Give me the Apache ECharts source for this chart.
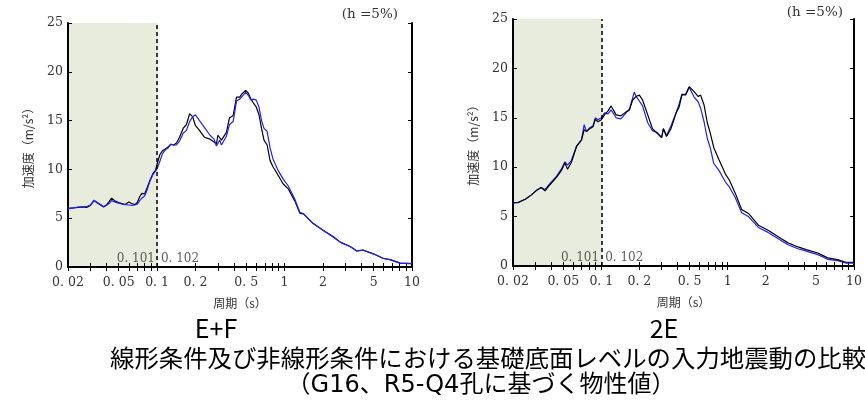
<!DOCTYPE html>
<html><head><meta charset="utf-8">
<script src="https://cdn.jsdelivr.net/npm/echarts@6/dist/echarts.min.js"></script>
<style>html,body{margin:0;padding:0;background:#fff}#c{width:865px;height:414px}</style>
</head><body><div id="c"></div>
<script>
// ---- data ----
const efPeriods = [0.020,0.022,0.024,0.026,0.028,0.030,0.032,0.034,0.036,0.038,0.040,0.042,0.044,0.047,0.050,0.053,0.056,0.060,0.063,0.067,0.070,0.073,0.076,0.080,0.084,0.088,0.093,0.097,0.100,0.105,0.110,0.116,0.122,0.128,0.135,0.142,0.150,0.160,0.170,0.180,0.190,0.200,0.215,0.235,0.260,0.280,0.292,0.300,0.310,0.320,0.350,0.370,0.395,0.420,0.445,0.460,0.495,0.520,0.545,0.570,0.600,0.630,0.660,0.690,0.730,0.770,0.810,0.890,0.976,1.07,1.20,1.32,1.41,1.68,2.02,2.42,2.73,3.27,3.69,4.16,4.98,5.97,6.73,8.07,10.0];
const efBlack = [6.0,6.05,6.1,6.15,6.1,6.3,6.8,6.55,6.35,6.15,6.35,6.7,7.05,6.75,6.6,6.5,6.4,6.65,6.5,6.4,6.6,7.2,7.55,7.5,8.2,8.9,9.6,9.9,10.1,11.5,11.9,12.1,12.3,12.55,12.5,12.7,13.3,14.2,14.6,15.7,15.4,14.5,14.0,13.3,13.1,12.8,12.6,13.5,13.4,13.0,13.8,15.3,15.5,17.4,17.4,17.7,18.1,17.8,17.2,16.8,16.4,15.6,14.2,13.0,12.5,10.9,10.3,9.4,8.5,8.0,6.8,5.5,5.45,4.45,3.75,3.1,2.55,2.1,1.65,1.72,1.35,0.87,0.76,0.4,0.35];
const efBlue  = [5.95,6.05,6.15,6.2,6.2,6.35,6.85,6.6,6.4,6.2,6.3,6.5,6.8,6.65,6.55,6.45,6.4,6.35,6.3,6.35,6.45,6.8,7.05,7.3,8.0,8.8,9.5,9.8,10.1,10.8,11.6,12.0,12.2,12.6,12.5,12.5,12.9,13.7,14.0,14.9,15.4,15.6,15.0,14.3,13.5,13.1,12.4,12.3,13.0,12.5,13.4,14.6,14.9,17.0,17.2,17.4,17.9,17.6,17.1,17.2,17.1,16.4,15.0,14.2,13.9,12.2,11.1,9.9,9.0,8.3,7.0,5.6,5.45,4.45,3.75,3.05,2.55,2.1,1.65,1.72,1.35,0.87,0.76,0.4,0.35];

const e2Periods = [0.020,0.022,0.025,0.028,0.031,0.0334,0.0359,0.039,0.0443,0.0485,0.0515,0.054,0.058,0.0636,0.0697,0.0732,0.0763,0.081,0.086,0.0896,0.094,0.100,0.106,0.113,0.1196,0.131,0.143,0.157,0.167,0.177,0.182,0.188,0.200,0.212,0.233,0.254,0.278,0.300,0.310,0.328,0.356,0.390,0.413,0.434,0.466,0.496,0.542,0.585,0.610,0.650,0.690,0.730,0.775,0.850,0.960,1.03,1.15,1.29,1.46,1.75,2.09,2.51,3.00,3.60,4.18,5.17,6.18,7.41,8.60,10.0];
const e2Black = [6.4,6.45,6.75,7.2,7.7,7.95,7.6,8.2,9.0,9.7,10.45,9.8,10.5,12.1,12.75,13.8,13.6,13.9,14.1,14.85,14.6,14.8,15.3,15.7,16.2,15.3,15.2,15.6,15.8,16.8,17.0,17.15,17.3,16.8,15.3,13.9,13.4,13.0,13.9,13.1,13.9,15.45,16.1,17.3,17.4,18.15,17.65,17.15,17.3,16.3,14.5,13.4,12.0,10.8,9.3,8.7,7.35,5.72,5.32,4.13,3.62,2.95,2.34,1.93,1.66,1.32,0.82,0.65,0.38,0.38];
const e2Blue  = [6.35,6.4,6.75,7.2,7.7,7.95,7.75,8.3,9.1,9.85,10.55,10.2,10.7,12.1,12.8,14.3,13.6,14.0,14.2,15.0,14.8,15.0,15.5,15.4,15.8,15.0,14.9,15.5,15.9,17.0,17.6,17.2,16.7,16.2,14.5,13.7,13.5,13.0,13.9,13.2,14.2,15.5,16.4,17.4,17.3,18.1,17.1,16.6,16.0,14.6,12.9,11.9,10.4,9.7,8.5,8.0,6.9,5.4,5.0,3.9,3.4,2.75,2.15,1.75,1.5,1.15,0.68,0.55,0.3,0.3];

const xLabelValues = [0.02,0.05,0.1,0.2,0.5,1,2,5,10];
const xLabelTexts  = ['0. 02','0. 05','0. 1','0. 2','0. 5','1','2','5','10'];
const xTickValues  = [0.02,0.03,0.04,0.05,0.06,0.07,0.08,0.09,0.1,0.2,0.3,0.4,0.5,0.6,0.7,0.8,0.9,1,2,3,4,5,6,7,8,9,10];
const boundary = 0.1015;
const boundaryLabels = ['0. 101','0. 102'];
const panelTitles = ['E+F','2E'];
const dampingText = '(h =5%)';
const mainTitle = '線形条件及び非線形条件における基礎底面レベルの入力地震動の比較';
const subTitle = '（G16、R5-Q4孔に基づく物性値）';

// ---- chart ----
const serif = 'DejaVu Serif';
const cjk = 'Noto Sans CJK JP';
const grids = [
  {left: 68, top: 23, width: 344, height: 244},
  {left: 513, top: 19, width: 344, height: 247}
];
function fmtX(v){
  for (let i=0;i<xLabelValues.length;i++){ if (Math.abs(v-xLabelValues[i])/xLabelValues[i] < 1e-3) return xLabelTexts[i]; }
  return '';
}
const xAxes = [], yAxes = [], series = [];
const panels = [
  {p: efPeriods, k: efBlack, b: efBlue, blueTop: true},
  {p: e2Periods, k: e2Black, b: e2Blue, blueTop: false}
];
panels.forEach((pn, gi) => {
  xAxes.push({
    type: 'log', logBase: 10, gridIndex: gi, min: 0.02, max: 10, position: 'bottom',
    name: '周期（s）', nameLocation: 'middle', nameGap: 30,
    nameTextStyle: {fontFamily: cjk, fontSize: 12, color: '#333'},
    axisLine: {show: true, lineStyle: {color: '#000', width: 2}},
    axisTick: {show: true, inside: true, length: 4, customValues: xTickValues, lineStyle: {color: '#000', width: 1}},
    minorTick: {show: false},
    axisLabel: {show: true, customValues: xLabelValues, formatter: fmtX, margin: 9,
      fontFamily: serif, fontSize: 12.5, color: '#333'},
    splitLine: {show: false}
  });
  xAxes.push({
    type: 'log', logBase: 10, gridIndex: gi, min: 0.02, max: 10, position: 'top',
    axisLine: {show: true, lineStyle: {color: '#000', width: 1.5}},
    axisTick: {show: true, inside: true, length: 4, customValues: xTickValues, lineStyle: {color: '#000', width: 1}},
    axisLabel: {show: false}, splitLine: {show: false}
  });
  yAxes.push({
    type: 'value', gridIndex: gi, min: 0, max: 25, interval: 5, position: 'left',
    name: '加速度（m/s²）', nameLocation: 'middle', nameGap: 34, nameRotate: 90,
    nameTextStyle: {fontFamily: cjk, fontSize: 12, color: '#333'},
    axisLine: {show: true, lineStyle: {color: '#000', width: 2}},
    axisTick: {show: true, inside: true, length: 4, lineStyle: {color: '#000'}},
    axisLabel: {fontFamily: serif, fontSize: 12.5, color: '#333', margin: 5},
    splitLine: {show: false}
  });
  yAxes.push({
    type: 'value', gridIndex: gi, min: 0, max: 25, interval: 5, position: 'right',
    axisLine: {show: true, lineStyle: {color: '#000', width: 2}},
    axisTick: {show: true, inside: true, length: 4, lineStyle: {color: '#000'}},
    axisLabel: {show: false}, splitLine: {show: false}
  });
  const xi = gi*2, yi = gi*2;
  const mk = (vals, color, z) => ({
    type: 'line', xAxisIndex: xi, yAxisIndex: yi, symbol: 'none', smooth: false, z: z,
    lineStyle: {color: color, width: 1.2}, silent: true,
    data: pn.p.map((t, i) => [t, vals[i]])
  });
  const blackS = mk(pn.k, '#000', pn.blueTop ? 3 : 4);
  const blueS = mk(pn.b, '#1f1fff', pn.blueTop ? 4 : 3);
  blackS.markArea = {silent: true, itemStyle: {color: '#e8ecdc'}, z: 0,
    data: [[{xAxis: 0.02}, {xAxis: boundary}]]};
  blackS.markLine = {silent: true, symbol: 'none', label: {show: false},
    lineStyle: {color: '#000', type: [4, 3], width: 1.5},
    data: [{xAxis: boundary}]};
  series.push(blackS, blueS);
  series.push({
    type: 'scatter', xAxisIndex: xi, yAxisIndex: yi, symbolSize: 0, silent: true, z: 5,
    data: [[boundary, 0]],
    label: {show: true, position: 'left', distance: 3, offset: [0, -8], formatter: boundaryLabels[0],
      fontFamily: serif, fontSize: 12, color: '#333'}
  });
  series.push({
    type: 'scatter', xAxisIndex: xi, yAxisIndex: yi, symbolSize: 0, silent: true, z: 5,
    data: [[boundary, 0]],
    label: {show: true, position: 'right', distance: 3, offset: [0, -8], formatter: boundaryLabels[1],
      fontFamily: serif, fontSize: 12, color: '#333'}
  });
});

const chart = echarts.init(document.getElementById('c'), null, {renderer: 'canvas'});
chart.setOption({
  animation: false,
  backgroundColor: '#fff',
  grid: grids.map(g => Object.assign({containLabel: false}, g)),
  xAxis: xAxes, yAxis: yAxes, series: series,
  graphic: [
    {type: 'text', x: 398, y: 14, style: {text: dampingText, fontFamily: serif, fontSize: 13.5, fill: '#333', align: 'right', verticalAlign: 'middle'}},
    {type: 'text', x: 843, y: 12, style: {text: dampingText, fontFamily: serif, fontSize: 13.5, fill: '#333', align: 'right', verticalAlign: 'middle'}},
    {type: 'text', x: 216, y: 328, style: {text: panelTitles[0], fontFamily: cjk, fontSize: 25, fill: '#000', align: 'center', verticalAlign: 'middle'}},
    {type: 'text', x: 664, y: 328, style: {text: panelTitles[1], fontFamily: cjk, fontSize: 25, fill: '#000', align: 'center', verticalAlign: 'middle'}},
    {type: 'text', x: 110, y: 358, style: {text: mainTitle, fontFamily: cjk, fontSize: 24.4, fill: '#000', align: 'left', verticalAlign: 'middle'}},
    {type: 'text', x: 481, y: 386, style: {text: subTitle, fontFamily: "'DejaVu Sans', 'Noto Sans CJK JP'", fontSize: 24, fill: '#000', align: 'center', verticalAlign: 'middle'}}
  ]
});
</script></body></html>
